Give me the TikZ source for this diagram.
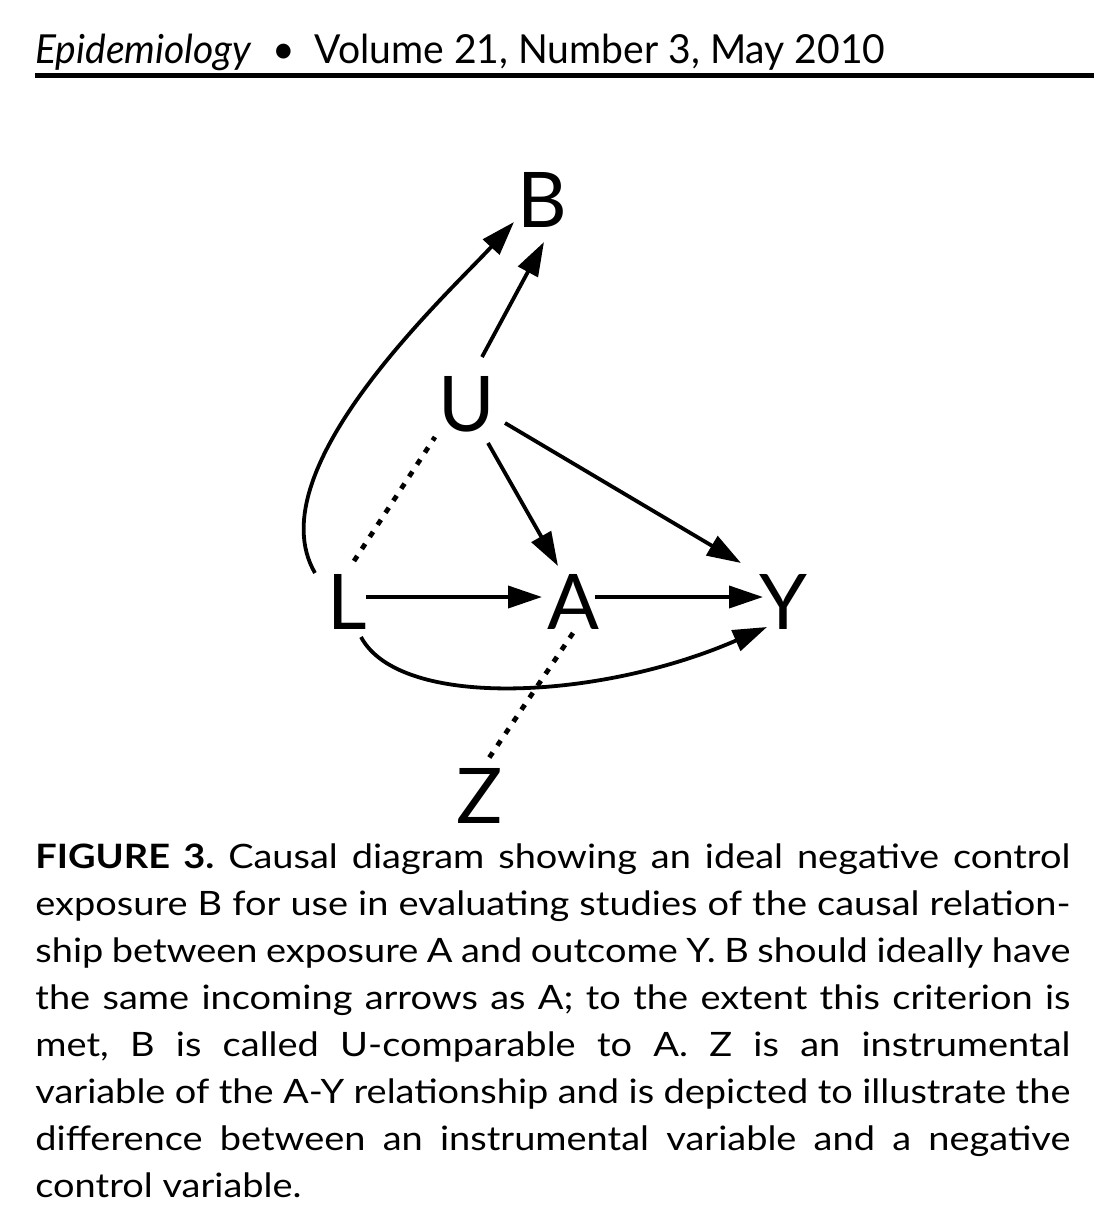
\documentclass[tikz,border=0pt]{standalone}
\usepackage{fontspec}
\setmainfont{Lato}
\newfontfamily\capfont{Lato}[FakeStretch=1.13]
\usepackage{graphicx}
\usetikzlibrary{arrows.meta}
\begin{document}
\begin{tikzpicture}[x=0.5pt,y=-0.5pt,
  var/.style={inner sep=0pt, font=\fontsize{38.4}{40}\selectfont},
  arr/.style={line width=1.9pt, -{Triangle[length=17pt,width=11pt]}},
  dotline/.style={line width=2.4pt, dash pattern=on 3pt off 4.2pt}]
\useasboundingbox (0,0) rectangle (1094,1216);
\fill[white] (0,0) rectangle (1094,1216);
% header
\node[anchor=base west, inner sep=0pt] (head) at (35,63)
  {\resizebox{425pt}{\height}{\fontsize{20}{24}\selectfont\textit{Epidemiology}\ \ •\ \ Volume 21, Number 3, May 2010}};
\draw[line width=2.25pt] (35,75.5) -- (1094,75.5);
% variables
\node[var] (B) at (542,200) {B};
\node[var] (U) at (467,404) {U};
\node[var] (L) at (347,602) {L};
\node[var] (A) at (573,602) {A};
\node[var] (Y) at (783,602) {Y};
\node[var] (Z) at (480,796) {Z};
% arrows
\draw[arr] ([shift={(19,-5)}]L.center) -- ([shift={(-31,-5)}]A.center);
\draw[arr] ([shift={(22,-5)}]A.center) -- ([shift={(-20,-5)}]Y.center);
\draw[arr] ([shift={(21,39)}]U.center) -- ([shift={(-15,-36)}]A.center);
\draw[arr] ([shift={(38,19)}]U.center) -- ([shift={(-42,-39)}]Y.center);
\draw[arr] ([shift={(15,-47)}]U.center) -- ([shift={(2,42)}]B.center);
\draw[arr] ([shift={(-32,-29)}]L.center) .. controls (255,470) and (450,292) .. ([shift={(-28,22)}]B.center);
\draw[arr] ([shift={(14,35)}]L.center) .. controls (400,710) and (600,700) .. ([shift={(-16,25)}]Y.center);
% dotted
\draw[dotline] ([shift={(7,-41)}]L.center) -- ([shift={(-32,33)}]U.center);
\draw[dotline] ([shift={(0,31)}]A.center) -- ([shift={(9,-38)}]Z.center);
% caption
\node[anchor=base west, inner sep=0pt] (cap) at (35,868)
 {\parbox[t]{517.5pt}{\capfont\fontsize{16.8}{23.57}\selectfont\frenchspacing\hyphenpenalty=10000 \tolerance=9999
 \textbf{FIGURE 3.} Causal diagram showing an ideal negative control\linebreak
 exposure B for use in evaluating studies of the causal relation-\linebreak
 ship between exposure A and outcome Y. B should ideally have\linebreak
 the same incoming arrows as A; to the extent this criterion is\linebreak
 met, B is called U-comparable to A. Z is an instrumental\linebreak
 variable of the A-Y relationship and is depicted to illustrate the\linebreak
 difference between an instrumental variable and a negative\linebreak
 control variable.}};
\end{tikzpicture}
\end{document}
